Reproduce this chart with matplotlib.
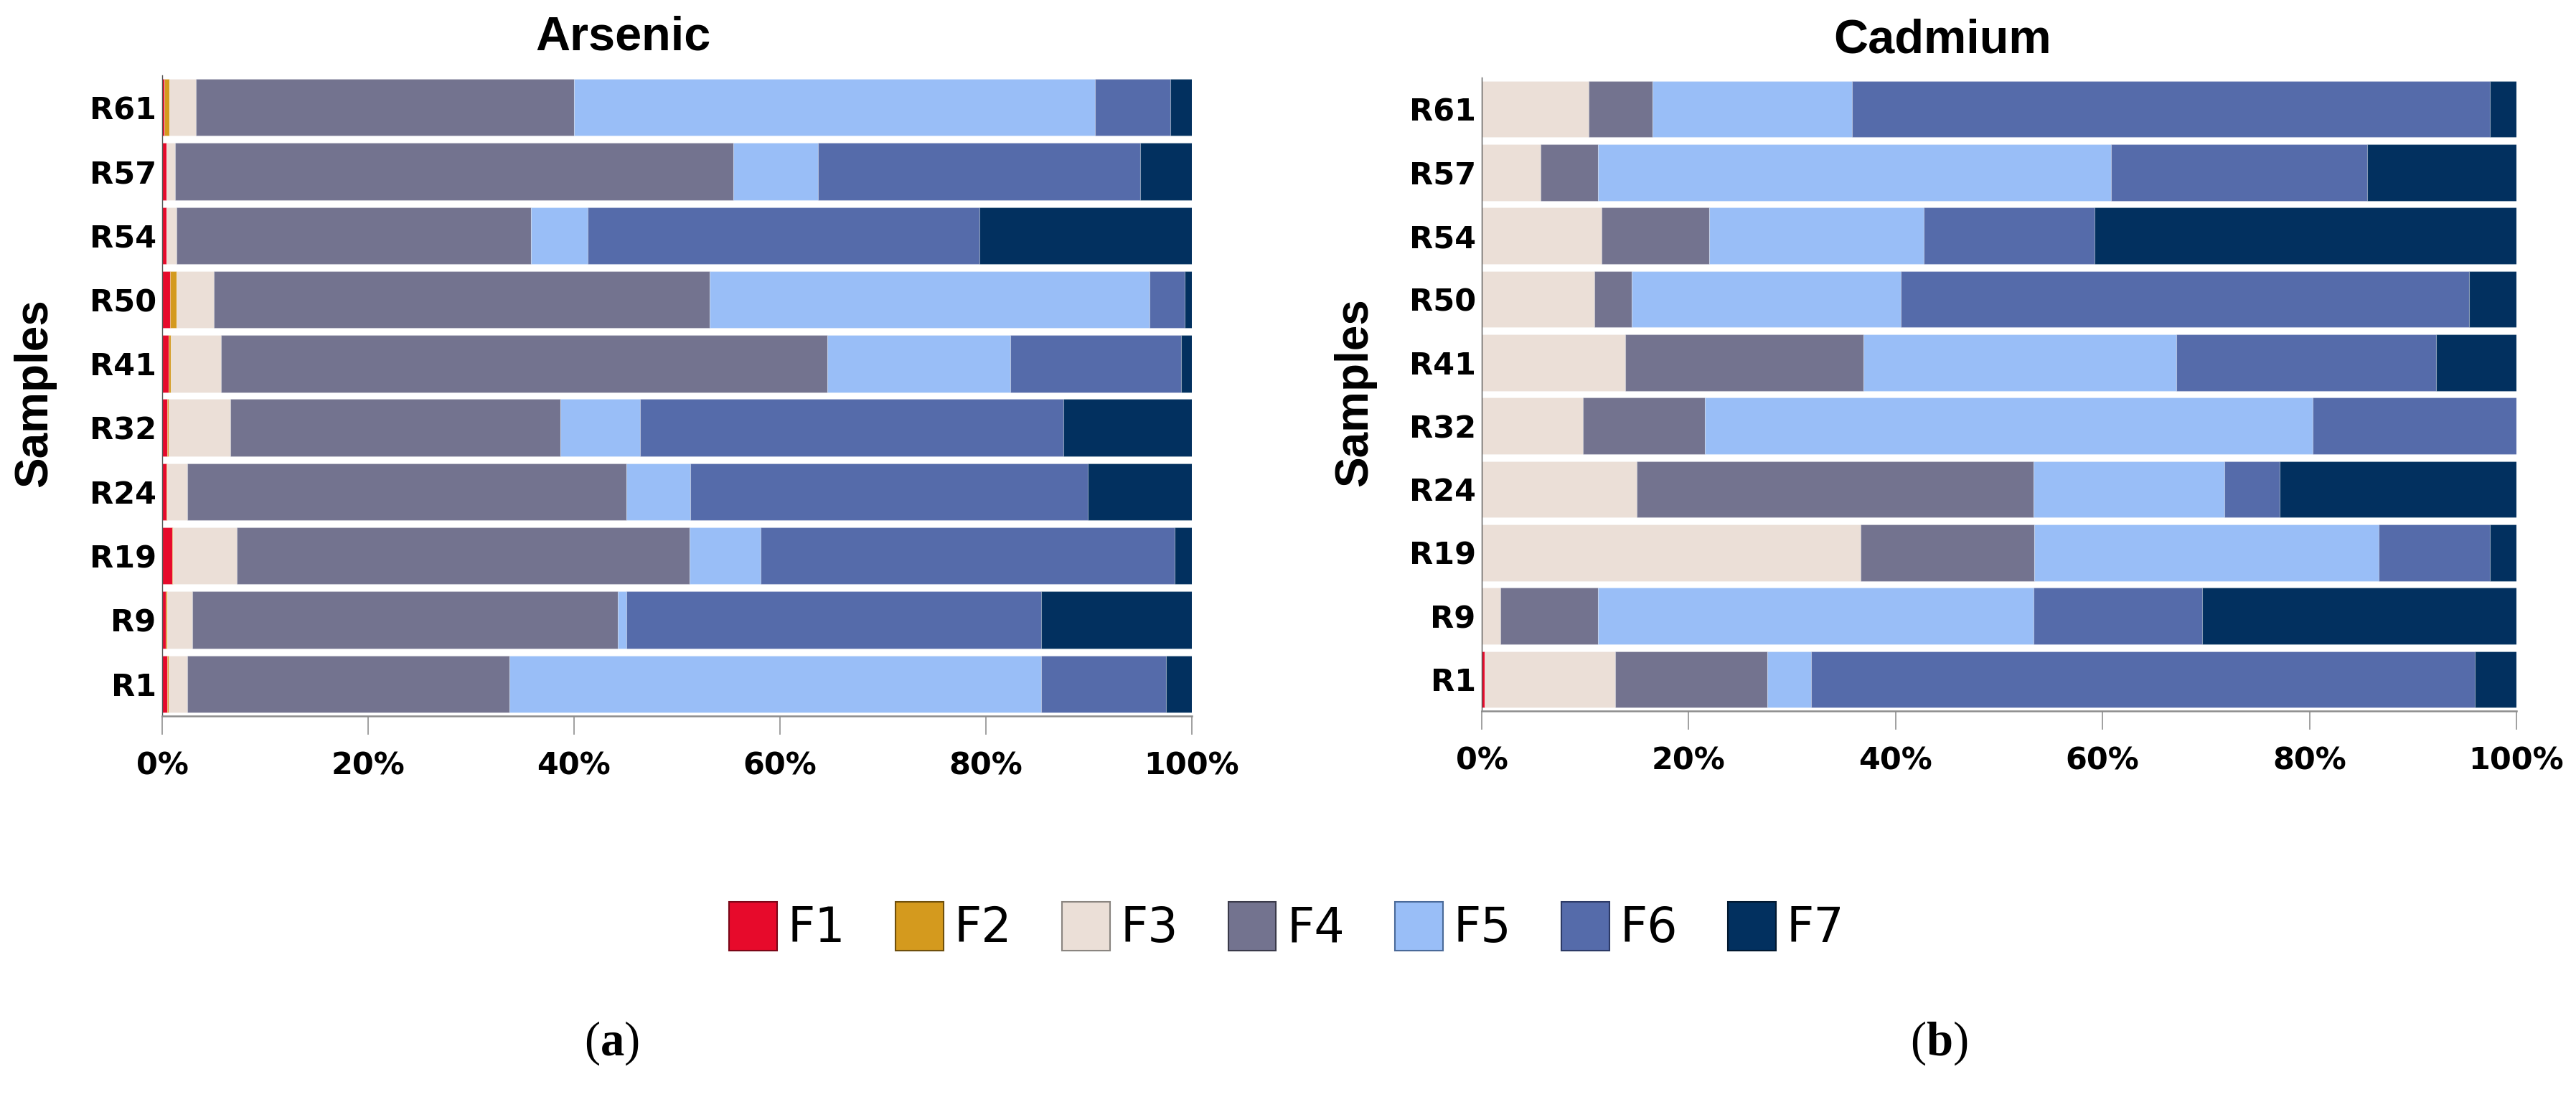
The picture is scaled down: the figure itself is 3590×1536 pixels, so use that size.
import matplotlib
matplotlib.use("Agg")
import matplotlib.pyplot as plt
from matplotlib.patches import Patch
from matplotlib.ticker import FixedLocator, FuncFormatter
import numpy as np

# ---------------- data ----------------
samples = ["R1", "R9", "R19", "R24", "R32", "R41", "R50", "R54", "R57", "R61"]
fractions = ["F1", "F2", "F3", "F4", "F5", "F6", "F7"]
colors = ["#E70A2B", "#D49A1E", "#EBDFD7", "#73738F", "#99BEF7", "#556BAA", "#02305F"]
legend_edges = ["#7a0617", "#6e4f0c", "#8a8580", "#3a3a4a", "#4a6a99", "#2c3a66", "#01182f"]

# Arsenic (%), order follows samples
as_F1 = [0.5, 0.35, 0.95, 0.4, 0.5, 0.6, 0.75, 0.4, 0.4, 0.2]
as_F2 = [0.1, 0.15, 0.1, 0.1, 0.15, 0.25, 0.65, 0.05, 0.05, 0.5]
as_F3 = [1.85, 2.4, 6.2, 1.95, 6.0, 4.85, 3.65, 0.92, 0.8, 2.6]
as_F4 = [31.25, 41.35, 43.95, 42.65, 32.05, 58.9, 48.15, 34.43, 54.25, 36.7]
as_F5 = [51.7, 0.85, 6.9, 6.2, 7.7, 17.8, 42.7, 5.5, 8.2, 50.6]
as_F6 = [12.1, 40.3, 40.2, 38.6, 41.1, 16.55, 3.4, 38.1, 31.3, 7.3]
as_F7 = [2.5, 14.6, 1.7, 10.1, 12.5, 1.05, 0.7, 20.6, 5.0, 2.1]

# Cadmium (%)
cd_F1 = [0.3, 0, 0, 0, 0, 0, 0, 0, 0, 0]
cd_F2 = [0, 0, 0, 0, 0, 0, 0, 0, 0, 0]
cd_F3 = [12.6, 1.8, 36.6, 15.0, 9.8, 13.9, 10.9, 11.55, 5.7, 10.3]
cd_F4 = [14.7, 9.4, 16.8, 38.3, 11.8, 23.0, 3.6, 10.45, 5.5, 6.2]
cd_F5 = [4.2, 42.1, 33.3, 18.5, 58.7, 30.2, 26.0, 20.7, 49.6, 19.3]
cd_F6 = [64.2, 16.3, 10.7, 5.3, 19.7, 25.1, 54.9, 16.5, 24.8, 61.6]
cd_F7 = [4.0, 30.4, 2.6, 22.9, 0, 7.8, 4.6, 40.8, 14.4, 2.6]

panels = [
    ("Arsenic", [as_F1, as_F2, as_F3, as_F4, as_F5, as_F6, as_F7]),
    ("Cadmium", [cd_F1, cd_F2, cd_F3, cd_F4, cd_F5, cd_F6, cd_F7]),
]
xticks = [0, 20, 40, 60, 80, 100]

# ---------------- figure ----------------
W, H = 3591, 1536
DPI = 100
fig = plt.figure(figsize=(W / DPI, H / DPI), dpi=DPI)
fig.patch.set_facecolor("white")

def fx(px):
    return px / W

def fy(py):
    return 1 - py / H

# axes rectangles in pixels: (left, top, right, bottom)
rects = [(226, 105, 1661, 998), (2065, 108, 3507, 991)]
title_pos = [(868, 70), (2707, 73)]
ylabel_pos = [(48, 548), (1888, 547)]

narrow_bold = ["Liberation Sans", "DejaVu Sans"]
tick_font = ["DejaVu Sans"]

for (title, series), (l, t, r, b), (tx, ty), (lx, ly) in zip(panels, rects, title_pos, ylabel_pos):
    ax = fig.add_axes([fx(l), fy(b), fx(r - l), fy(t) - fy(b)])
    y = np.arange(len(samples))
    left = np.zeros(len(samples))
    for vals, c in zip(series, colors):
        v = np.array(vals, dtype=float)
        ax.barh(y, v, left=left, height=0.89, color=c,
                edgecolor=(1, 1, 1, 0.25), linewidth=0.8)
        left = left + v
    ax.set_xlim(0, 100)
    ax.set_ylim(-0.5, len(samples) - 0.5)
    ax.set_yticks(y)
    ax.set_yticklabels(samples)
    ax.xaxis.set_major_locator(FixedLocator(xticks))
    ax.xaxis.set_major_formatter(FuncFormatter(lambda v, p: f"{int(v)}%"))
    for s in ["top", "right"]:
        ax.spines[s].set_visible(False)
    ax.spines["left"].set_color("#555555")
    ax.spines["left"].set_linewidth(1.0)
    ax.spines["bottom"].set_color("#8c8c8c")
    ax.spines["bottom"].set_linewidth(1.8)
    ax.tick_params(axis="y", length=0, pad=6)
    ax.tick_params(axis="x", length=19, width=1.3, color="#999999", pad=16)
    for lab in ax.get_yticklabels() + ax.get_xticklabels():
        lab.set_fontfamily(tick_font)
        lab.set_fontweight("bold")
        lab.set_fontsize(31)
    ax.set_facecolor("white")

    fig.text(fx(tx), fy(ty), title, ha="center", va="baseline",
             family=narrow_bold, fontweight="bold", fontsize=48)
    fig.text(fx(lx), fy(ly), "Samples", ha="center", va="center", rotation=90,
             family=narrow_bold, fontweight="bold", fontsize=46)

handles = [Patch(facecolor=c, edgecolor=e, linewidth=1.5, label=f)
           for c, e, f in zip(colors, legend_edges, fractions)]
fig.legend(handles=handles, loc="center", bbox_to_anchor=(fx(1793), fy(1292)),
           ncol=7, frameon=False, prop={"family": "DejaVu Sans", "size": 48},
           handlelength=1.0, handleheight=1.2, handletextpad=0.22,
           columnspacing=1.05, borderaxespad=0)

plt.rcParams["mathtext.fontset"] = "custom"
plt.rcParams["mathtext.rm"] = "Liberation Serif"
plt.rcParams["mathtext.bf"] = "Liberation Serif:bold"
for lbl, px in [("a", 852), ("b", 2702)]:
    fig.text(fx(px), fy(1454), "($\\mathbf{" + lbl + "}$)", ha="center", va="center",
             family=["Liberation Serif", "DejaVu Serif"], fontsize=48)

fig.savefig("out.png", dpi=DPI, facecolor="white")
